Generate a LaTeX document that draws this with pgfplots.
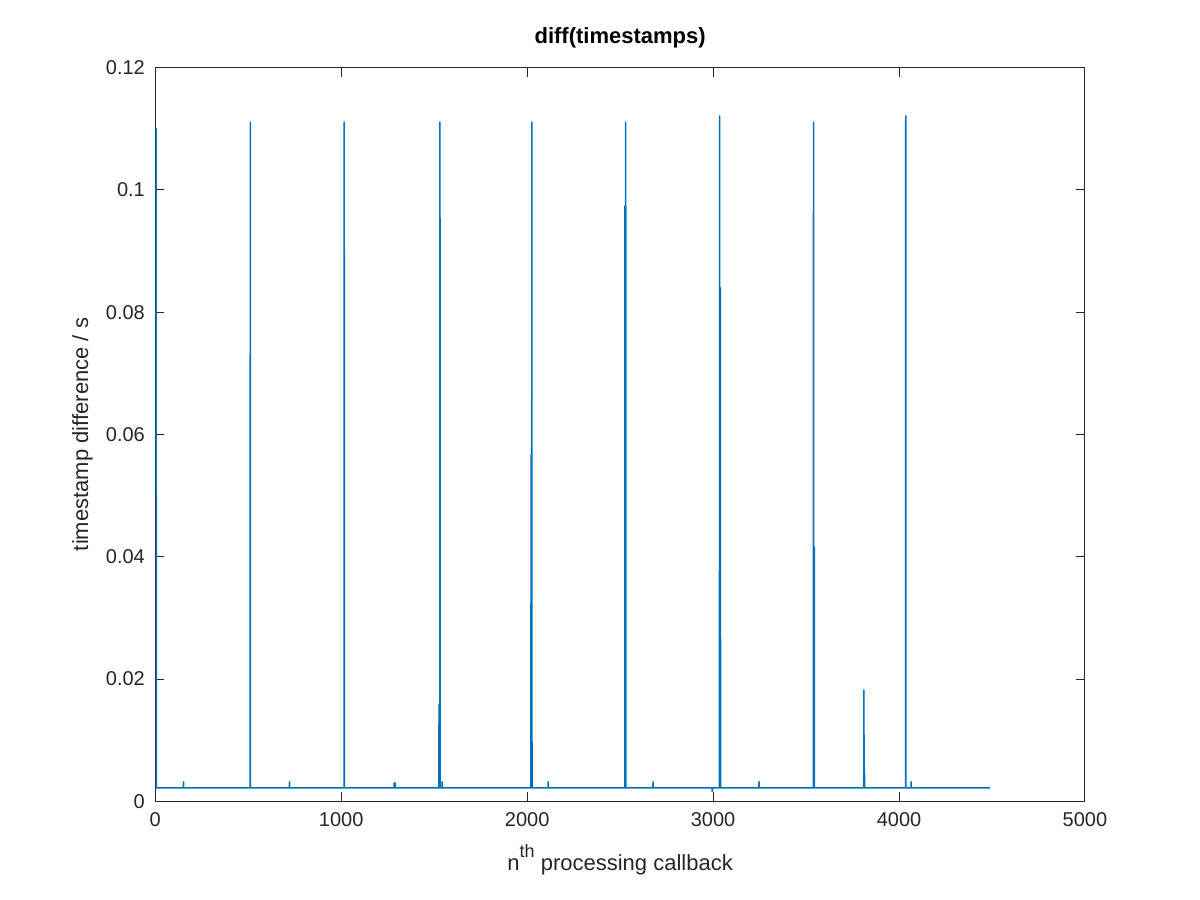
\documentclass[border=0pt]{standalone}
\usepackage{pgfplots}
\pgfplotsset{compat=1.18}
\usepackage{fontspec}
\setmainfont{Liberation Sans}
\definecolor{octblue}{HTML}{0072BD}
\definecolor{axgray}{HTML}{262626}
\begin{document}
\begin{tikzpicture}
\path[use as bounding box, fill=white] (0,0) rectangle (600pt,450pt);
\begin{axis}[
  at={(77.65pt,49.35pt)}, anchor=south west,
  scale only axis, width=464.85pt, height=366.8pt,
  xmin=0, xmax=5000, ymin=0, ymax=0.12,
  xtick={0,1000,2000,3000,4000,5000},
  ytick={0,0.02,0.04,0.06,0.08,0.1,0.12},
  scaled x ticks=false, scaled y ticks=false,
  /pgf/number format/assume math mode=true,
  /pgf/number format/1000 sep={},
  yticklabel style={/pgf/number format/fixed, /pgf/number format/precision=2, xshift=-1.7pt},
  xticklabel style={yshift=-2pt},
  tick label style={font=\fontsize{10}{12}\selectfont, text=axgray},
  tick align=inside, major tick length=4.5pt,
  axis line style={axgray, line width=0.5pt},
  every tick/.style={axgray, line width=0.5pt},
  clip=true,
  title={\bfseries diff(timestamps)},
  title style={font=\fontsize{11}{13}\selectfont, at={(axis description cs:0.5,1)}, anchor=base, yshift=5.9pt, text=black},
  xlabel={n\raisebox{1.1ex}{\fontsize{9}{9}\selectfont th} processing callback},
  xlabel style={font=\fontsize{11}{13}\selectfont, at={(axis description cs:0.5,0)}, anchor=base, yshift=-34.4pt, text=axgray},
  ylabel={timestamp difference / s},
  ylabel style={font=\fontsize{11}{13}\selectfont, at={(axis description cs:0,0.5)}, anchor=base, yshift=33.6pt, text=axgray},
]
\addplot[octblue, line width=0.75pt, line join=round, mark=none] coordinates {
(4,0.1101) (6,0.00218)
(151,0.00218)(152,0.0032)(153,0.00218)
(510,0.00218)(511,0.1111)(512,0.00218)
(721,0.00218)(722,0.0032)(723,0.00218)
(1015,0.00218)(1016,0.1111)(1017,0.00218)
(1284,0.00218)(1285,0.0030)(1286,0.00218)(1289,0.00218)(1290,0.0030)(1291,0.00218)
(1525,0.00218)(1526,0.0159)(1527,0.00218)(1530,0.00218)(1531,0.1111)(1532,0.00218)
(1542,0.00218)(1543,0.0032)(1544,0.00218)
(2020,0.00218)(2021,0.0567)(2022,0.00218)(2024,0.00218)(2025,0.1111)(2026,0.00218)
(2112,0.00218)(2113,0.0032)(2114,0.00218)
(2525,0.00218)(2526,0.0974)(2527,0.00218)(2529,0.00218)(2530,0.1111)(2531,0.00218)
(2676,0.00218)(2677,0.0032)(2678,0.00218)
(2994,0.00218)(2995,0.0016)(2996,0.00218)
(3034,0.00218)(3035,0.1121)(3036,0.00218)(3038,0.00218)(3039,0.0840)(3040,0.00218)
(3246,0.00218)(3247,0.0032)(3248,0.00218)
(3539,0.00218)(3540,0.1111)(3541,0.00218)(3543,0.00218)(3544,0.0416)(3545,0.00218)
(3810,0.00218)(3811,0.0182)(3812,0.00218)(3813,0.00218)(3814,0.0048)(3815,0.00218)
(4035,0.00218)(4036,0.1121)(4037,0.00218)
(4064,0.00218)(4065,0.0032)(4066,0.00218)
(4489,0.00218)
};
\end{axis}
\end{tikzpicture}
\end{document}
